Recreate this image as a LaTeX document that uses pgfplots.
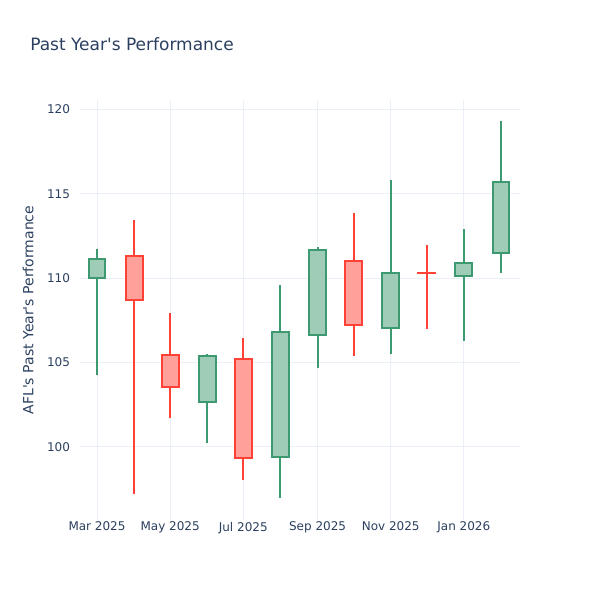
\documentclass[border=0pt]{standalone}
\usepackage{fontspec}
\setmainfont{DejaVu Sans}[Ligatures=TeXOff]
\usepackage{pgfplots}
\pgfplotsset{compat=1.18}
\definecolor{inc}{HTML}{3D9970}
\definecolor{dec}{HTML}{FF4136}
\definecolor{txt}{HTML}{2A3F5F}
\definecolor{grd}{HTML}{EBF0F8}
\pgfplotsset{
  upw/.style={draw=inc, line width=1.5pt, mark=none},
  dnw/.style={draw=dec, line width=1.5pt, mark=none},
  upb/.style={draw=inc, fill=inc!50, line width=1.5pt, mark=none},
  dnb/.style={draw=dec, fill=dec!50, line width=1.5pt, mark=none},
}
\begin{document}
\begin{tikzpicture}
\path (0,0) rectangle (450pt,450pt);
\node[anchor=west, inner sep=0pt, text=txt, font=\fontsize{12.75pt}{14pt}\selectfont] at (22.5pt,417pt) {Past Year's Performance};
\begin{axis}[
  at={(60pt,60pt)}, anchor=south west,
  scale only axis, width=330pt, height=315pt,
  xmin=-14.2, xmax=352.9, ymin=95.67, ymax=120.56,
  axis line style={draw=none},
  tick style={draw=none},
  grid=major, major grid style={grd, line width=0.75pt},
  xtick={0,61,122,184,245,306},
  xticklabels={Mar 2025,May 2025,Jul 2025,Sep 2025,Nov 2025,Jan 2026},
  ytick={100,105,110,115,120},
  /pgf/number format/assume math mode=true,
  tick label style={text=txt, font=\fontsize{9pt}{10pt}\selectfont},
  yticklabel style={xshift=-4pt},
  xticklabel style={yshift=2pt},
  ylabel={AFL's Past Year's Performance},
  ylabel style={at={(axis description cs:-0.118,0.5)}, anchor=center, text=txt, font=\fontsize{10.5pt}{12pt}\selectfont},
]
% Mar 2025 (O 110.00 H 111.73 L 104.27 C 111.15)
\addplot[upw] coordinates {(0,104.27) (0,111.73)};
\addplot[upb] coordinates {(-7,110.00) (7,110.00) (7,111.15) (-7,111.15)} -- cycle;
% Apr 2025 (O 111.32 H 113.45 L 97.21 C 108.71)
\addplot[dnw] coordinates {(31,97.21) (31,113.45)};
\addplot[dnb] coordinates {(24,108.71) (38,108.71) (38,111.32) (24,111.32)} -- cycle;
% May 2025 (O 105.45 H 107.94 L 101.72 C 103.56)
\addplot[dnw] coordinates {(61,101.72) (61,107.94)};
\addplot[dnb] coordinates {(54,103.56) (68,103.56) (68,105.45) (54,105.45)} -- cycle;
% Jun 2025 (O 102.67 H 105.51 L 100.24 C 105.40)
\addplot[upw] coordinates {(92,100.24) (92,105.51)};
\addplot[upb] coordinates {(85,102.67) (99,102.67) (99,105.40) (85,105.40)} -- cycle;
% Jul 2025 (O 105.21 H 106.46 L 98.04 C 99.35)
\addplot[dnw] coordinates {(122,98.04) (122,106.46)};
\addplot[dnb] coordinates {(115,99.35) (129,99.35) (129,105.21) (115,105.21)} -- cycle;
% Aug 2025 (O 99.41 H 109.60 L 96.98 C 106.81)
\addplot[upw] coordinates {(153,96.98) (153,109.60)};
\addplot[upb] coordinates {(146,99.41) (160,99.41) (160,106.81) (146,106.81)} -- cycle;
% Sep 2025 (O 106.64 H 111.83 L 104.66 C 111.67)
\addplot[upw] coordinates {(184,104.66) (184,111.83)};
\addplot[upb] coordinates {(177,106.64) (191,106.64) (191,111.67) (177,111.67)} -- cycle;
% Oct 2025 (O 111.00 H 113.88 L 105.41 C 107.21)
\addplot[dnw] coordinates {(214,105.41) (214,113.88)};
\addplot[dnb] coordinates {(207,107.21) (221,107.21) (221,111.00) (207,111.00)} -- cycle;
% Nov 2025 (O 107.03 H 115.82 L 105.49 C 110.29)
\addplot[upw] coordinates {(245,105.49) (245,115.82)};
\addplot[upb] coordinates {(238,107.03) (252,107.03) (252,110.29) (238,110.29)} -- cycle;
% Dec 2025 (O 110.32 H 111.97 L 107.01 C 110.28)
\addplot[dnw] coordinates {(275,107.01) (275,111.97)};
\addplot[dnb] coordinates {(268,110.28) (282,110.28) (282,110.32) (268,110.32)} -- cycle;
% Jan 2026 (O 110.15 H 112.90 L 106.30 C 110.92)
\addplot[upw] coordinates {(306,106.30) (306,112.90)};
\addplot[upb] coordinates {(299,110.15) (313,110.15) (313,110.92) (299,110.92)} -- cycle;
% Feb 2026 (O 111.48 H 119.32 L 110.29 C 115.70)
\addplot[upw] coordinates {(337,110.29) (337,119.32)};
\addplot[upb] coordinates {(330,111.48) (344,111.48) (344,115.70) (330,115.70)} -- cycle;
\end{axis}
\end{tikzpicture}
\end{document}
